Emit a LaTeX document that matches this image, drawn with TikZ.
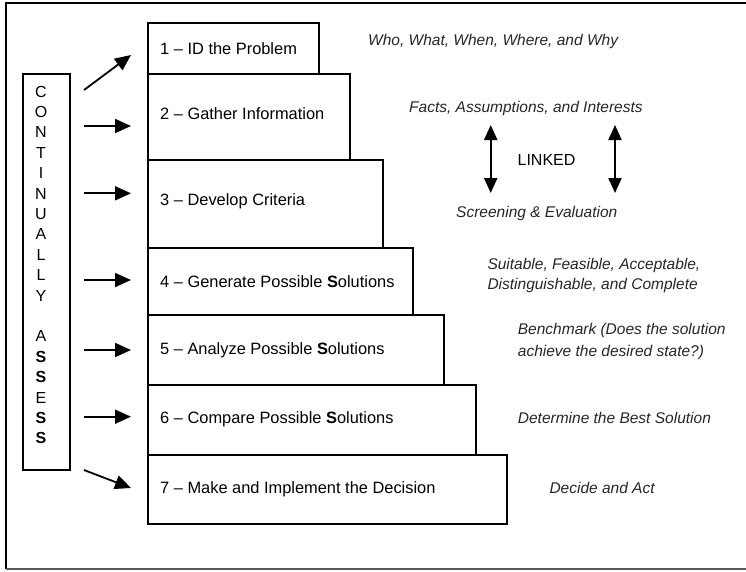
\documentclass[tikz,border=0pt]{standalone}
\usepackage{fontspec}
\setmainfont{Liberation Sans}
\usetikzlibrary{arrows.meta}
\begin{document}
\begin{tikzpicture}[x=1pt,y=1pt,
  stairbox/.style={draw, line width=2.2pt, anchor=north west, inner sep=0pt},
  steptext/.style={anchor=west, inner sep=0pt, font=\fontsize{16.4}{19}\selectfont, text height=11.7pt, text depth=0pt},
  note/.style={anchor=west, inner sep=0pt, align=left, font=\fontsize{15.5}{20}\selectfont\itshape, text=black!85},
  onenote/.style={note, text height=11pt, text depth=0pt},
  arr/.style={line width=1.8pt, -{Triangle[length=16pt,width=14pt]}},
  darr/.style={line width=2.2pt, {Triangle[length=15pt,width=13pt]}-{Triangle[length=15pt,width=13pt]}}
]
\useasboundingbox (0,0) rectangle (746,-571);
% frame
\draw[line width=2.4pt] (746,-3) -- (6,-3) -- (6,-569);
\draw[line width=1.6pt, black!65] (6,-569) -- (746,-569);

% column
\node[draw, line width=2pt, anchor=north west, inner sep=0pt, minimum width=47.3pt, minimum height=396pt] (col) at (21.7,-73) {};
\node[inner sep=0pt, align=center, font=\fontsize{16}{20.4}\selectfont] (colt) at (41,-265) {C\\O\\N\\T\\I\\N\\U\\A\\L\\L\\Y\\[20.4pt]A\\\textbf{S}\\\textbf{S}\\E\\\textbf{S}\\\textbf{S}};

% stair boxes
\node[stairbox, minimum width=171pt, minimum height=50.7pt] (b1) at (147,-22) {};
\node[stairbox, minimum width=202pt, minimum height=86.3pt] (b2) at (147,-72.7) {};
\node[stairbox, minimum width=235pt, minimum height=87.7pt] (b3) at (147,-159) {};
\node[stairbox, minimum width=265pt, minimum height=67.3pt] (b4) at (147,-246.7) {};
\node[stairbox, minimum width=296pt, minimum height=70pt] (b5) at (147,-314) {};
\node[stairbox, minimum width=328pt, minimum height=70pt] (b6) at (147,-384) {};
\node[stairbox, minimum width=358.7pt, minimum height=68.7pt] (b7) at (147,-454) {};

\node[steptext] (s1) at ([xshift=13pt]b1.west) {1 – ID the Problem};
\node[steptext] (s2) at ([xshift=13pt,yshift=3pt]b2.west) {2 – Gather Information};
\node[steptext] (s3) at ([xshift=13pt,yshift=4pt]b3.west) {3 – Develop Criteria};
\node[steptext] (s4) at ([xshift=13pt]b4.west) {4 – Generate Possible \textbf{S}olutions};
\node[steptext] (s5) at ([xshift=13pt,yshift=1pt]b5.west) {5 – Analyze Possible \textbf{S}olutions};
\node[steptext] (s6) at ([xshift=13pt,yshift=2pt]b6.west) {6 – Compare Possible \textbf{S}olutions};
\node[steptext] (s7) at ([xshift=13pt,yshift=2pt]b7.west) {7 – Make and Implement the Decision};

% arrows from column
\coordinate (t1) at (84,-90);
\coordinate (h1) at (131,-55);
\coordinate (t2) at (84,-126);
\coordinate (t3) at (84,-193.3);
\coordinate (t4) at (84,-280);
\coordinate (t5) at (84,-350);
\coordinate (t6) at (84,-416.7);
\coordinate (t7) at (84,-470);
\coordinate (h7) at (131,-488);
\draw[arr] (t1) -- (h1);
\draw[arr, shorten >=16pt] (t2) -- (t2 -| b2.west);
\draw[arr, shorten >=16pt] (t3) -- (t3 -| b3.west);
\draw[arr, shorten >=16pt] (t4) -- (t4 -| b4.west);
\draw[arr, shorten >=16pt] (t5) -- (t5 -| b5.west);
\draw[arr, shorten >=16pt] (t6) -- (t6 -| b6.west);
\draw[arr] (t7) -- (h7);

% notes
\node[onenote] (who) at (368,-40) {Who, What, When, Where, and Why};
\node[onenote] (facts) at (409,-107) {Facts, Assumptions, and Interests};
\node[inner sep=0pt, font=\fontsize{16}{19}\selectfont, text height=11.5pt, text depth=0pt] (linked) at (546.5,-160) {LINKED};
\node[onenote] (screen) at (456,-211.7) {Screening \& Evaluation};
\node[note] (suit) at (487.3,-275.5) {Suitable, Feasible, Acceptable,\\Distinguishable, and Complete};
\node[note, font=\fontsize{15.5}{21.6}\selectfont\itshape] (bench) at (517.7,-341.3) {Benchmark (Does the solution\\achieve the desired state?)};
\node[onenote] (det) at (517.7,-417.7) {Determine the Best Solution};
\node[onenote] (decide) at (549.3,-488.3) {Decide and Act};

% linked arrows
\coordinate (la1) at (490.7,-125);
\coordinate (la2) at (490.7,-193);
\coordinate (ra1) at (615,-125);
\coordinate (ra2) at (615,-193);
\draw[darr] (la1) -- (la2);
\draw[darr] (ra1) -- (ra2);
\end{tikzpicture}
\end{document}
